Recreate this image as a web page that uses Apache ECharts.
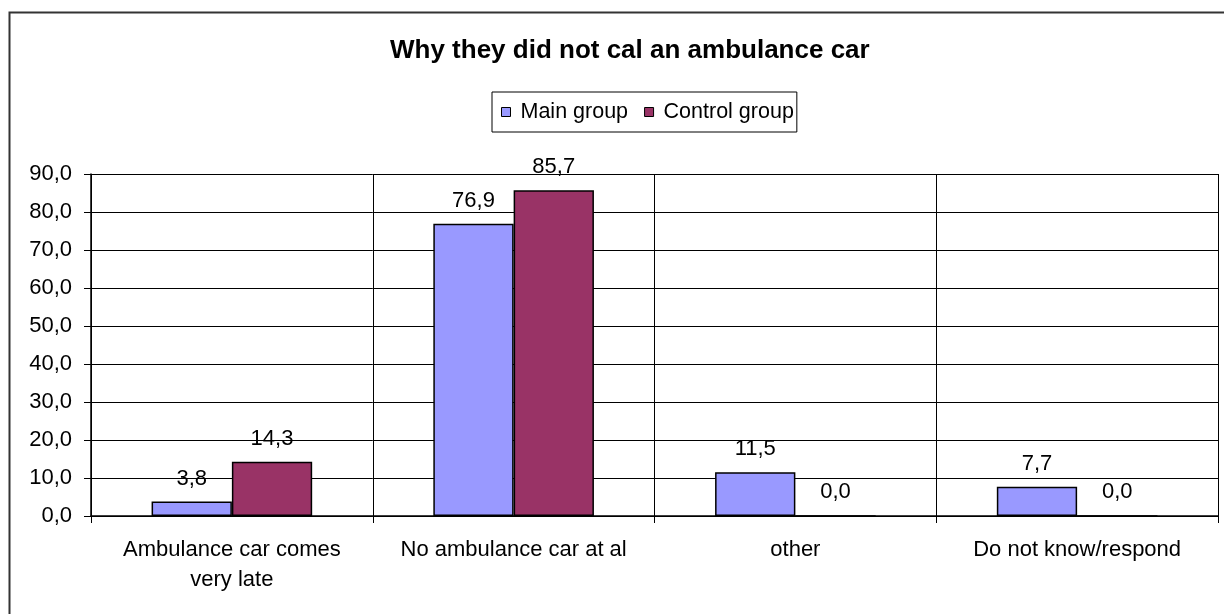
<!DOCTYPE html>
<html>
<head>
<meta charset="utf-8">
<script src="https://cdn.jsdelivr.net/npm/echarts@6/dist/echarts.min.js"></script>
<style>html,body{margin:0;padding:0;background:#fff;}#c{width:1224px;height:614px;}</style>
</head>
<body>
<div id="c"></div>
<script>
var categories = ['Ambulance car comes\nvery late', 'No ambulance car at al', 'other', 'Do not know/respond'];
var mainGroup = [3.8, 76.9, 11.5, 7.7];
var controlGroup = [14.3, 85.7, 0.0, 0.0];
var seriesNames = ['Main group', 'Control group'];
var titleText = 'Why they did not cal an ambulance car';

var FONT = '"Liberation Sans", Arial, sans-serif';
function fmt(v) { return Number(v).toFixed(1).replace('.', ','); }

var chart = echarts.init(document.getElementById('c'), null, { renderer: 'canvas' });
var labelCfg = {
  show: true, position: 'top', distance: 12,
  fontFamily: FONT, fontSize: 22, color: '#000',
  formatter: function (p) { return fmt(p.value); }
};
chart.setOption({
  animation: false,
  backgroundColor: '#fff',
  title: {
    text: titleText, left: 385, top: 33,
    textStyle: { fontFamily: FONT, fontSize: 26, fontWeight: 'bold', color: '#000' }
  },
  legend: {
    data: seriesNames, left: 492, top: 92,
    borderColor: '#000', borderWidth: 1, padding: [9, 3, 9, 9],
    itemWidth: 9, itemHeight: 9, itemGap: 16,
    icon: 'rect',
    textStyle: { fontFamily: FONT, fontSize: 21.5, color: '#000', padding: [0, 0, 0, 5] },
    itemStyle: { borderColor: '#000', borderWidth: 1 }
  },
  graphic: [{
    type: 'rect', left: 7, top: 10, z: -1,
    shape: { x: 0, y: 0, width: 1400, height: 800 },
    style: { fill: 'none', stroke: '#333', lineWidth: 2 }
  }],
  grid: { left: 91, right: 6, top: 174, bottom: 98, containLabel: false },
  xAxis: {
    type: 'category', data: categories,
    axisLine: { lineStyle: { color: '#000', width: 1.5 } },
    axisTick: { show: true, length: 7, lineStyle: { color: '#000' } },
    splitLine: { show: true, lineStyle: { color: '#000', width: 1 } },
    axisLabel: { fontFamily: FONT, fontSize: 22, color: '#000', margin: 19, lineHeight: 30, interval: 0 }
  },
  yAxis: {
    type: 'value', min: 0, max: 90, interval: 10,
    axisLine: { show: true, lineStyle: { color: '#000', width: 1.5 } },
    axisTick: { show: true, length: 7, lineStyle: { color: '#000' } },
    splitLine: { show: true, lineStyle: { color: '#000', width: 1 } },
    axisLabel: { fontFamily: FONT, fontSize: 22, color: '#000', margin: 19, formatter: fmt }
  },
  series: [
    {
      name: seriesNames[0], type: 'bar', data: mainGroup,
      barGap: '0%', barCategoryGap: '43%',
      itemStyle: { color: '#9999FF', borderColor: '#000', borderWidth: 1.5 },
      label: labelCfg
    },
    {
      name: seriesNames[1], type: 'bar', data: controlGroup,
      barGap: '0%', barCategoryGap: '43%',
      itemStyle: { color: '#993366', borderColor: '#000', borderWidth: 1.5 },
      label: labelCfg
    }
  ]
});
</script>
</body>
</html>
